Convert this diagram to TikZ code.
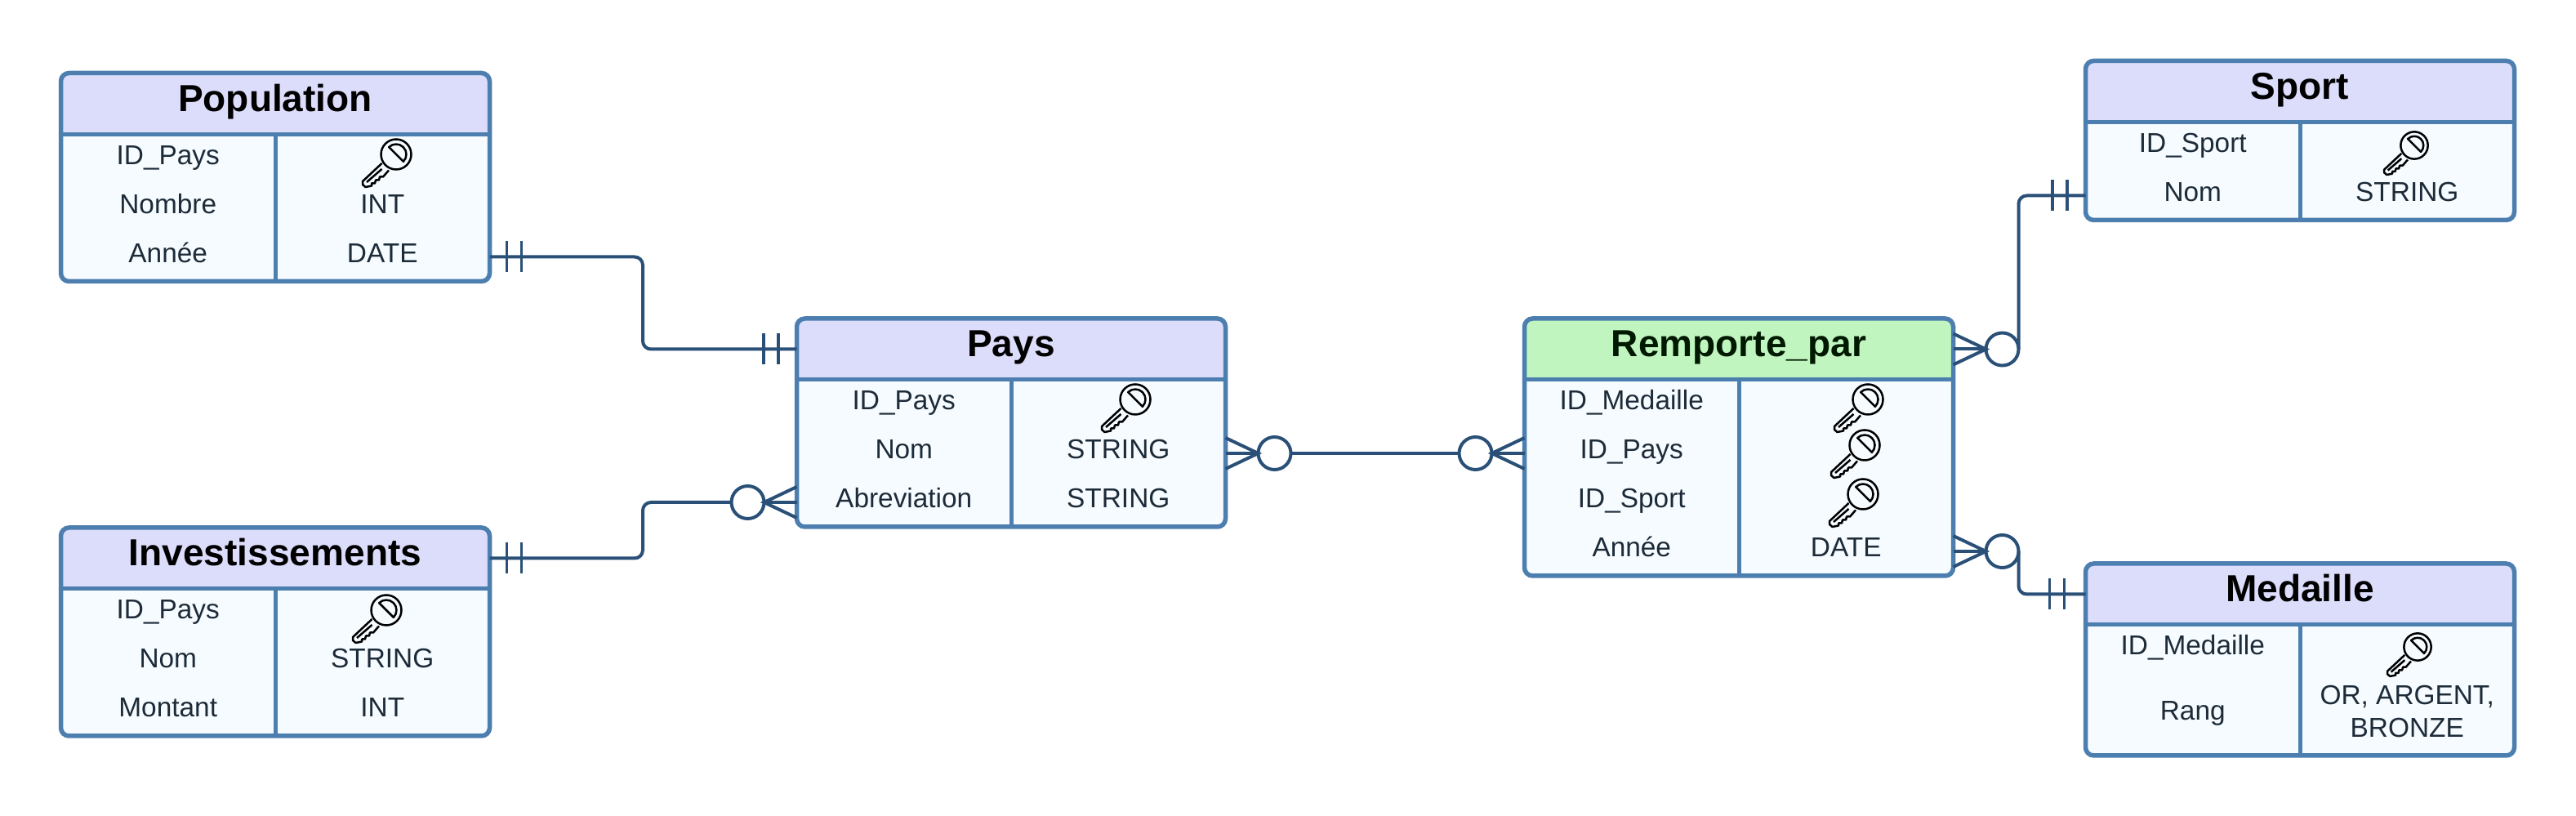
\documentclass[tikz,border=0pt]{standalone}
\usepackage{fontspec}
\setmainfont{Liberation Sans}
\usetikzlibrary{arrows.meta,positioning,calc}

\definecolor{framecol}{HTML}{4C7FB0}
\definecolor{headblue}{HTML}{DCDCFB}
\definecolor{headgreen}{HTML}{C0F5C0}
\definecolor{bodycol}{HTML}{F5FBFF}
\definecolor{relcol}{HTML}{2A5078}
\definecolor{textcol}{HTML}{1D2B38}

\begin{document}
\begin{tikzpicture}[
    node distance=0cm,
    entity/.style={draw=framecol, fill=bodycol, line width=0.11cm, rounded corners=0.2cm,
                  minimum width=10.5cm, outer sep=0pt, inner sep=0pt,
                  path picture={
                    \fill[#1] (path picture bounding box.north west) rectangle
                      ($(path picture bounding box.north east)+(0,-1.5)$);
                    \draw[framecol, line width=0.1cm]
                      ($(path picture bounding box.north west)+(0,-1.5)$) --
                      ($(path picture bounding box.north east)+(0,-1.5)$);
                    \draw[framecol, line width=0.1cm]
                      ($(path picture bounding box.north)+(0,-1.5)$) --
                      (path picture bounding box.south);
                  }},
    entity/.default=headblue,
    title/.style={minimum width=10.5cm, minimum height=1.5cm, inner sep=0pt, outer sep=0pt,
                  text height=0.62cm, text depth=0.24cm, font=\fontsize{26.2}{30}\selectfont\bfseries},
    cell/.style={minimum width=5.25cm, minimum height=1.2cm, inner sep=0pt, outer sep=0pt,
                  text height=0.45cm, text depth=0.17cm, text=textcol, font=\fontsize{19}{22.8}\selectfont},
    relation/.style={draw=relcol, line width=0.08cm, rounded corners=0.2cm},
    zero/.style={circle, draw=relcol, fill=white, line width=0.08cm, minimum size=0.8cm,
                  inner sep=0pt, outer sep=0pt},
    crowfoot/.pic={
      \draw[relcol, line width=0.08cm] (0,0.38) -- (0.8,0) -- (0,-0.38);
      \draw[relcol, line width=0.08cm] (0,0) -- (0.8,0);
    },
    twobars/.pic={
      \draw[relcol, line width=0.07cm] (-0.18,0.38) -- (-0.18,-0.38);
      \draw[relcol, line width=0.07cm] (0.18,0.38) -- (0.18,-0.38);
    },
    keyicon/.pic={
      \draw[black, line width=0.05cm] (0,0) circle (0.37);
      \draw[black, line width=0.05cm, line join=round] (135:0.25) arc (135:-45:0.25) -- cycle;
      \draw[black, line width=0.05cm, line join=round] (-0.35,-0.22) -- (-0.82,-0.66) -- (-0.82,-0.74)
        -- (-0.75,-0.80) -- (-0.60,-0.77) -- (-0.60,-0.71) -- (-0.52,-0.71) -- (-0.50,-0.63)
        -- (-0.42,-0.63) -- (-0.40,-0.55) -- (-0.32,-0.55) -- (-0.18,-0.39);
      \draw[black, line width=0.05cm] (-0.72,-0.68) -- (-0.35,-0.36);
    }
  ]
    \useasboundingbox (0,0) rectangle (63.08,19.98);

    % Tables
    \node[entity, minimum height=5.1cm, anchor=north west] (population) at (1.49,18.19) {};
    \node[entity, minimum height=5.1cm, below=6.03cm of population] (invest) {};
    \node[entity, minimum height=5.1cm, anchor=north west] (pays) at (19.51,12.18) {};
    \node[entity=headgreen, minimum height=6.3cm, right=7.32cm of pays.north east, anchor=north west] (remporte) {};
    \node[entity, minimum height=3.9cm, anchor=north west] (sport) at (51.07,18.49) {};
    \node[entity, minimum height=4.7cm, below=8.41cm of sport] (medaille) {};

    % Population
    \node[title, below=0cm of population.north] (popTitle) {Population};
    \node[cell, below=0cm of popTitle, xshift=-2.625cm] (popId) {ID\_Pays};
    \node[cell, below=0cm of popId] (popNombre) {Nombre};
    \node[cell, below=0cm of popNombre] (popAnnee) {Année};
    \node[cell, right=0cm of popNombre] (popInt) {INT};
    \node[cell, right=0cm of popAnnee] (popDate) {DATE};
    \pic at ([shift={(8.21,-1.99)}]population.north west) {keyicon};

    % Investissements
    \node[title, below=0cm of invest.north] (invTitle) {Investissements};
    \node[cell, below=0cm of invTitle, xshift=-2.625cm] (invId) {ID\_Pays};
    \node[cell, below=0cm of invId] (invNom) {Nom};
    \node[cell, below=0cm of invNom] (invMontant) {Montant};
    \node[cell, right=0cm of invNom] (invString) {STRING};
    \node[cell, right=0cm of invMontant] (invInt) {INT};
    \pic at ([shift={(7.97,-2.02)}]invest.north west) {keyicon};

    % Pays
    \node[title, below=0cm of pays.north] (paysTitle) {Pays};
    \node[cell, below=0cm of paysTitle, xshift=-2.625cm] (paysId) {ID\_Pays};
    \node[cell, below=0cm of paysId] (paysNom) {Nom};
    \node[cell, below=0cm of paysNom] (paysAbrev) {Abreviation};
    \node[cell, right=0cm of paysNom] (paysString) {STRING};
    \node[cell, right=0cm of paysAbrev] (paysStringB) {STRING};
    \pic at ([shift={(8.29,-1.98)}]pays.north west) {keyicon};

    % Remporte_par
    \node[title, below=0cm of remporte.north, text=black!90!green] (remTitle) {Remporte\_par};
    \node[cell, below=0cm of remTitle, xshift=-2.625cm] (remMedaille) {ID\_Medaille};
    \node[cell, below=0cm of remMedaille] (remPays) {ID\_Pays};
    \node[cell, below=0cm of remPays] (remSport) {ID\_Sport};
    \node[cell, below=0cm of remSport] (remAnnee) {Année};
    \node[cell, right=0cm of remAnnee] (remDate) {DATE};
    \pic at ([shift={(8.41,-1.98)}]remporte.north west) {keyicon};
    \pic at ([shift={(8.33,-3.10)}]remporte.north west) {keyicon};
    \pic at ([shift={(8.29,-4.30)}]remporte.north west) {keyicon};

    % Sport
    \node[title, below=0cm of sport.north] (sportTitle) {Sport};
    \node[cell, below=0cm of sportTitle, xshift=-2.625cm] (sportId) {ID\_Sport};
    \node[cell, below=0cm of sportId] (sportNom) {Nom};
    \node[cell, right=0cm of sportNom] (sportString) {STRING};
    \pic[scale=0.9] at ([shift={(8.05,-2.07)}]sport.north west) {keyicon};

    % Medaille
    \node[title, below=0cm of medaille.north] (medTitle) {Medaille};
    \node[cell, below=0cm of medTitle, xshift=-2.625cm] (medId) {ID\_Medaille};
    \node[cell, minimum height=2cm, below=0cm of medId] (medRang) {Rang};
    \node[cell, minimum height=2cm, right=0cm of medRang, yshift=0.08cm, align=center, text height=, text depth=] (medEnum) {OR, ARGENT,\\BRONZE};
    \pic[scale=0.9] at ([shift={(8.13,-2.04)}]medaille.north west) {keyicon};

    % Ports
    \coordinate (popPort) at ($(population.south east)+(0,0.6)$);
    \coordinate (paysTop) at ($(pays.north west)+(0,-0.75)$);
    \coordinate (invPort) at ($(invest.north east)+(0,-0.75)$);
    \coordinate (paysLow) at ($(pays.south west)+(0,0.6)$);
    \coordinate (paysEast) at ($(pays.north east)+(0,-3.3)$);
    \coordinate (remWest) at ($(remporte.north west)+(0,-3.3)$);
    \coordinate (remTop) at ($(remporte.north east)+(0,-0.75)$);
    \coordinate (remLow) at ($(remporte.south east)+(0,0.6)$);
    \coordinate (sportPort) at ($(sport.south west)+(0,0.6)$);
    \coordinate (medPort) at ($(medaille.north west)+(0,-0.75)$);

    % Optional ends
    \node[zero, left=0.8cm of paysLow] (paysLowZero) {};
    \node[zero, right=0.8cm of paysEast] (paysEastZero) {};
    \node[zero, left=0.8cm of remWest] (remWestZero) {};
    \node[zero, right=0.8cm of remTop] (remTopZero) {};
    \node[zero, right=0.8cm of remLow] (remLowZero) {};

    % Relations
    \draw[relation] (popPort) -- ++(3.75,0) |- (paysTop);
    \draw[relation] (invPort) -- ++(3.75,0) |- (paysLowZero.west);
    \draw[relation] (paysEastZero.east) -- (remWestZero.west);
    \draw[relation] (remTopZero.east) |- (sportPort);
    \draw[relation] (remLowZero.east) |- (medPort);

    \pic[xscale=-1] at (paysLow) {crowfoot};
    \pic at (paysEast) {crowfoot};
    \pic[xscale=-1] at (remWest) {crowfoot};
    \pic at (remTop) {crowfoot};
    \pic at (remLow) {crowfoot};

    \pic at ($(popPort)+(0.6,0)$) {twobars};
    \pic at ($(paysTop)+(-0.63,0)$) {twobars};
    \pic at ($(invPort)+(0.6,0)$) {twobars};
    \pic at ($(sportPort)+(-0.63,0)$) {twobars};
    \pic at ($(medPort)+(-0.7,0)$) {twobars};
  \end{tikzpicture}
\end{document}
